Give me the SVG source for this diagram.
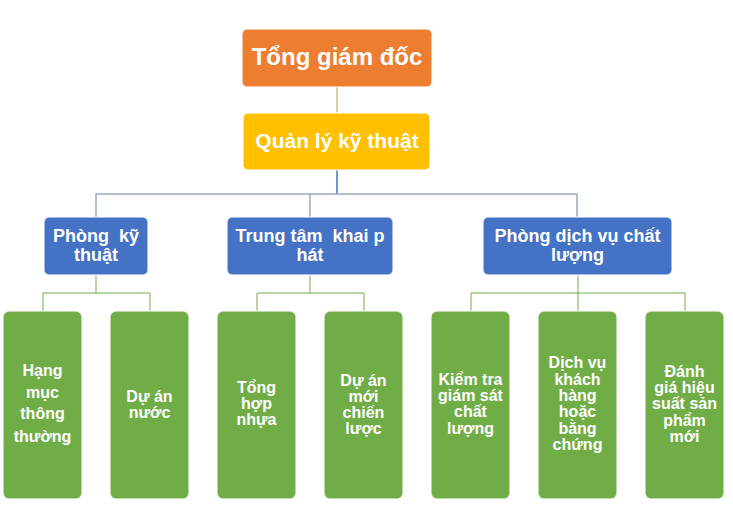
<svg xmlns="http://www.w3.org/2000/svg" width="733" height="528" viewBox="0 0 733 528">
<style>
text{font-family:"Liberation Sans",Arial,sans-serif;font-weight:bold;fill:#fff;text-anchor:middle}
.t1{font-size:24px}
.t2{font-size:21px}
.t3{font-size:18px}
.t4{font-size:16px}
.box{stroke:#fff;stroke-opacity:0.7;stroke-width:1.5}
.blue{fill:#4472C4}
.green{fill:#70AD47}
.cb{stroke:#9DAAC6;stroke-width:1.5;fill:none}
.cg{stroke:#70AD47;stroke-width:1;fill:none}
</style>
<rect width="733" height="528" fill="#fff"/>
<g id="connectors">
<line x1="337" y1="87" x2="337" y2="113" stroke="#D8B986" stroke-width="1.5"/>
<line x1="337" y1="170" x2="337" y2="194" stroke="#4472C4" stroke-width="1.5"/>
<polyline class="cb" points="96,217 96,194 577,194 577,217"/>
<line class="cb" x1="310" y1="194" x2="310" y2="217"/>
<polyline class="cg" points="43,311 43,293 150,293 150,311"/>
<line class="cg" x1="96" y1="275" x2="96" y2="293"/>
<polyline class="cg" points="257,311 257,293 364,293 364,311"/>
<line class="cg" x1="310" y1="275" x2="310" y2="293"/>
<polyline class="cg" points="471,311 471,293 685,293 685,311"/>
<line class="cg" x1="578" y1="275" x2="578" y2="311"/>
</g>
<g id="n-ceo">
<rect class="box" x="242" y="29" width="190" height="58" rx="5" fill="#ED7D31"/>
<text class="t1" x="337" y="65">Tổng giám đốc</text>
</g>
<g id="n-tech-mgr">
<rect class="box" x="243" y="113" width="187" height="57" rx="5" fill="#FFC000"/>
<text class="t2" x="337" y="148">Quản lý kỹ thuật</text>
</g>
<g id="n-dept-tech">
<rect class="box blue" x="44" y="217" width="104" height="58" rx="5"/>
<text class="t3" x="96" y="242">Phòng&#160; kỹ</text>
<text class="t3" x="96" y="261">thuật</text>
</g>
<g id="n-dev-center">
<rect class="box blue" x="227" y="217" width="166" height="58" rx="5"/>
<text class="t3" x="310" y="242">Trung tâm&#160; khai p</text>
<text class="t3" x="310" y="261">hát</text>
</g>
<g id="n-quality">
<rect class="box blue" x="483" y="217" width="189" height="58" rx="5"/>
<text class="t3" x="577.5" y="242">Phòng dịch vụ chất</text>
<text class="t3" x="577.5" y="261">lượng</text>
</g>
<g id="n-hang-muc">
<rect class="box green" x="3" y="311" width="79" height="188" rx="6"/>
<text class="t4" x="42.5" y="376">Hạng</text>
<text class="t4" x="42.5" y="398">mục</text>
<text class="t4" x="42.5" y="419">thông</text>
<text class="t4" x="42.5" y="442">thường</text>
</g>
<g id="n-du-an-nuoc">
<rect class="box green" x="110" y="311" width="79" height="188" rx="6"/>
<text class="t4" x="149.5" y="402">Dự án</text>
<text class="t4" x="149.5" y="418">nước</text>
</g>
<g id="n-tong-hop">
<rect class="box green" x="217" y="311" width="79" height="188" rx="6"/>
<text class="t4" x="256.5" y="393">Tổng</text>
<text class="t4" x="256.5" y="409">hợp</text>
<text class="t4" x="256.5" y="425">nhựa</text>
</g>
<g id="n-du-an-moi">
<rect class="box green" x="324" y="311" width="79" height="188" rx="6"/>
<text class="t4" x="363.5" y="386">Dự án</text>
<text class="t4" x="363.5" y="402">mới</text>
<text class="t4" x="363.5" y="418">chiến</text>
<text class="t4" x="363.5" y="434">lược</text>
</g>
<g id="n-kiem-tra">
<rect class="box green" x="431" y="311" width="79" height="188" rx="6"/>
<text class="t4" x="470.5" y="385">Kiểm tra</text>
<text class="t4" x="470.5" y="401">giám sát</text>
<text class="t4" x="470.5" y="417">chất</text>
<text class="t4" x="470.5" y="434">lượng</text>
</g>
<g id="n-dich-vu">
<rect class="box green" x="538" y="311" width="79" height="188" rx="6"/>
<text class="t4" x="577.5" y="368">Dịch vụ</text>
<text class="t4" x="577.5" y="385">khách</text>
<text class="t4" x="577.5" y="401">hàng</text>
<text class="t4" x="577.5" y="417">hoặc</text>
<text class="t4" x="577.5" y="434">bằng</text>
<text class="t4" x="577.5" y="450">chứng</text>
</g>
<g id="n-danh-gia">
<rect class="box green" x="645" y="311" width="79" height="188" rx="6"/>
<text class="t4" x="684.5" y="377">Đánh</text>
<text class="t4" x="684.5" y="393">giá hiệu</text>
<text class="t4" x="684.5" y="409">suất sản</text>
<text class="t4" x="684.5" y="426">phẩm</text>
<text class="t4" x="684.5" y="442">mới</text>
</g>
</svg>
